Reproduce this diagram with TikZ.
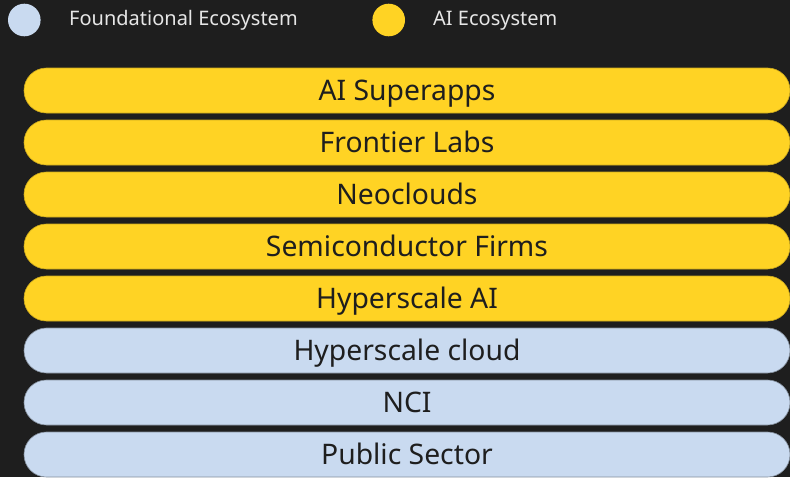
\documentclass[tikz,border=0pt]{standalone}
\usepackage{fontspec}
\setmainfont{Noto Sans}
\definecolor{bgc}{HTML}{1E1E1E}
\definecolor{aiy}{HTML}{FFD324}
\definecolor{fdb}{HTML}{C9DAF0}
\definecolor{legtxt}{HTML}{E6E6E6}
\definecolor{bartxt}{HTML}{1E1E1E}
\tikzset{
  bar/.style={rectangle, rounded corners=22.4pt, minimum width=766pt, minimum height=45pt,
    inner sep=0pt, text=bartxt, font=\fontsize{28.3}{33}\selectfont,
    text height=20.2pt, text depth=0pt, line width=0.6pt},
  aibar/.style={bar, fill=aiy, draw=aiy!80!black},
  fdbar/.style={bar, fill=fdb, draw=fdb!65!black},
  legdot/.style={circle, minimum size=32.6pt, inner sep=0pt},
  legtext/.style={anchor=base west, inner sep=0pt, text=legtxt, font=\fontsize{20}{24}\selectfont}
}
\begin{document}
\begin{tikzpicture}[x=1pt,y=-1pt]
\fill[bgc] (0,0) rectangle (790,477);
\useasboundingbox (0,0) rectangle (790,477);
\node[legdot, fill=fdb] (d1) at (24.3,20) {};
\node[legtext] (l1) at (69,25.7) {Foundational Ecosystem};
\node[legdot, fill=aiy] (d2) at (388.7,20) {};
\node[legtext] (l2) at (433,25.7) {AI Ecosystem};
\node[aibar] (b1) at (407,90.5) {AI Superapps};
\node[aibar] (b2) at (407,142.5) {Frontier Labs};
\node[aibar] (b3) at (407,194.5) {Neoclouds};
\node[aibar] (b4) at (407,246.5) {Semiconductor Firms};
\node[aibar] (b5) at (407,298.5) {Hyperscale AI};
\node[fdbar] (b6) at (407,350.5) {Hyperscale cloud};
\node[fdbar] (b7) at (407,402.5) {NCI};
\node[fdbar] (b8) at (407,454.5) {Public Sector};
\end{tikzpicture}
\end{document}
